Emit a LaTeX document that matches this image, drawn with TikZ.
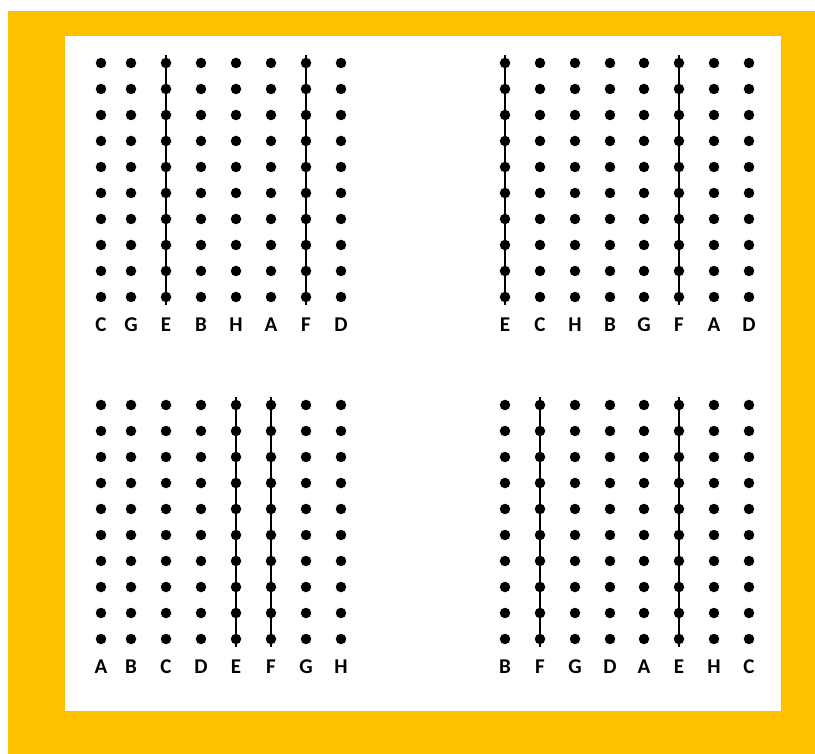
\documentclass[tikz,border=0pt]{standalone}
\usepackage{fontspec}
\setmainfont{Carlito}
\definecolor{gold}{HTML}{FFC000}
\begin{document}
\begin{tikzpicture}[x=1pt,y=-1pt,
  dot/.style={circle,fill=black,inner sep=0pt,minimum size=10.5pt},
  lbl/.style={font=\bfseries\fontsize{21}{23}\selectfont,text=black,inner sep=0pt},
  bar/.style={line width=2.8pt,shorten <=-8pt,shorten >=-8pt}]
\useasboundingbox (0,0) rectangle (815,754);
\fill[gold] (8,11) rectangle (815,754);
\fill[white] (65,36) rectangle (781,711);
% top-left
\foreach \x/\l [count=\i] in {101/C,131/G,166/E,201/B,236/H,271/A,306/F,341/D} {
  \foreach \r in {1,...,10} {\node[dot] (tl-\i-\r) at (\x,{63+26*(\r-1)}) {};}
  \node[lbl] (tl-lab-\i) at (\x,325) {\l};
}
\draw[bar] (tl-3-1.center) -- (tl-3-10.center);
\draw[bar] (tl-7-1.center) -- (tl-7-10.center);
% top-right
\foreach \x/\l [count=\i] in {505/E,540/C,575/H,610/B,644/G,679/F,714/A,749/D} {
  \foreach \r in {1,...,10} {\node[dot] (tr-\i-\r) at (\x,{63+26*(\r-1)}) {};}
  \node[lbl] (tr-lab-\i) at (\x,325) {\l};
}
\draw[bar] (tr-1-1.center) -- (tr-1-10.center);
\draw[bar] (tr-6-1.center) -- (tr-6-10.center);
% bottom-left
\foreach \x/\l [count=\i] in {101/A,131/B,166/C,201/D,236/E,271/F,306/G,341/H} {
  \foreach \r in {1,...,10} {\node[dot] (bl-\i-\r) at (\x,{405+26*(\r-1)}) {};}
  \node[lbl] (bl-lab-\i) at (\x,667) {\l};
}
\draw[bar] (bl-5-1.center) -- (bl-5-10.center);
\draw[bar] (bl-6-1.center) -- (bl-6-10.center);
% bottom-right
\foreach \x/\l [count=\i] in {505/B,540/F,575/G,610/D,644/A,679/E,714/H,749/C} {
  \foreach \r in {1,...,10} {\node[dot] (br-\i-\r) at (\x,{405+26*(\r-1)}) {};}
  \node[lbl] (br-lab-\i) at (\x,667) {\l};
}
\draw[bar] (br-2-1.center) -- (br-2-10.center);
\draw[bar] (br-6-1.center) -- (br-6-10.center);
\end{tikzpicture}
\end{document}
